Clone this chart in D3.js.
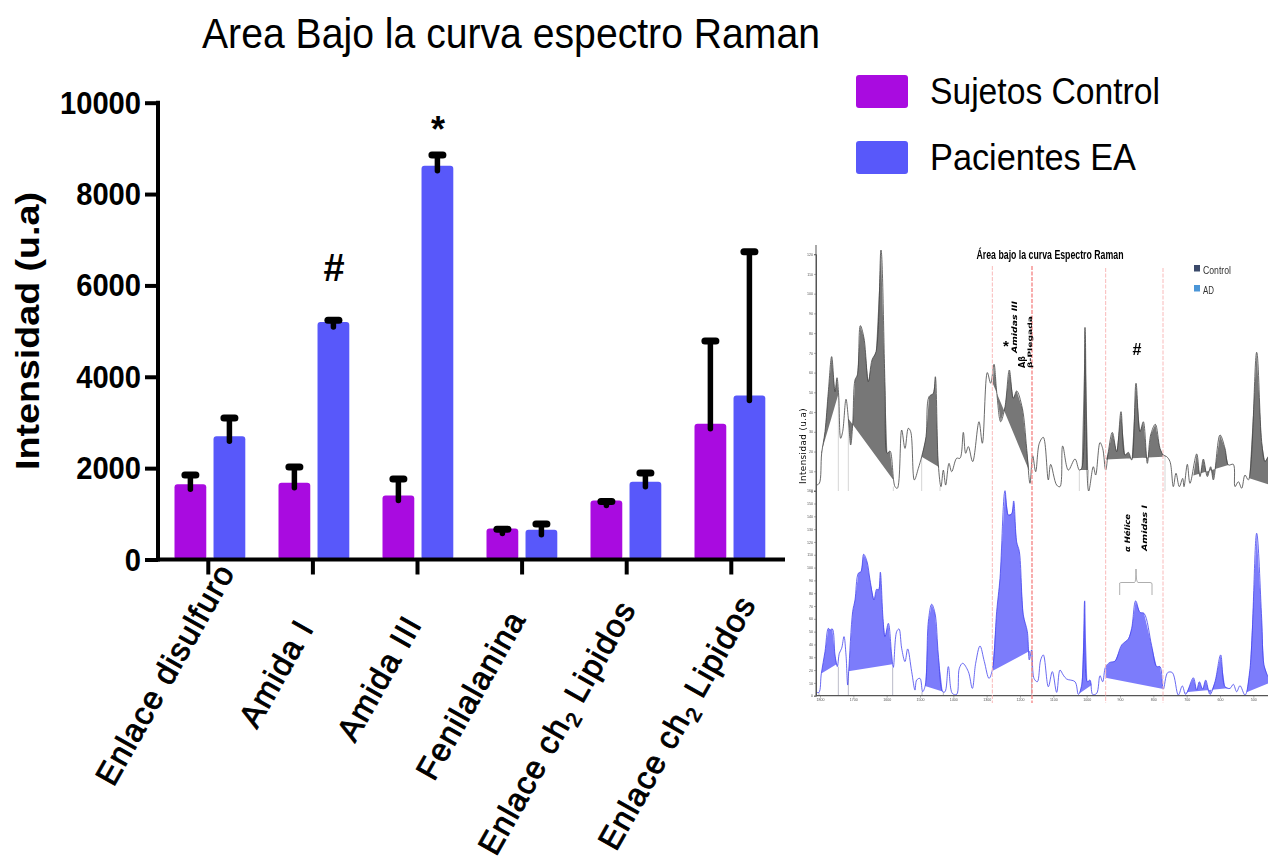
<!DOCTYPE html>
<html><head><meta charset="utf-8">
<style>html,body{margin:0;padding:0;background:#fff}svg{display:block}text{font-family:"Liberation Sans",Arial,sans-serif}</style>
<script src="https://cdn.jsdelivr.net/npm/d3@7"></script></head><body>
<svg id="c" width="1268" height="857"></svg>
<script>
const categories=["Enlace disulfuro","Amida I","Amida III","Fenilalanina","Enlace ch|2| Lipidos","Enlace ch|2| Lipidos "];
const seriesNames=["Sujetos Control","Pacientes EA"];
const controlValues=[1650,1680,1400,680,1290,2970];
const controlTops=[1850,2025,1762,660,1270,4783];
const patientValues=[2700,5200,8620,650,1700,3590];
const patientTops=[3097,5240,8855,775,1895,6738];
const yTicks=[0,2000,4000,6000,8000,10000];
const marks=[["#",1,6097],["*",2,9533]];
const spectrumTicks=[1800,1700,1600,1500,1400,1300,1200,1100,1000,900,800,700,600,500];
const topWn=[1810,1802,1795,1785,1775,1765,1755,1749,1744,1738,1732,1722,1715,1708,1702,1695,1688,1679,1668,1655,1644,1632,1617,1605,1598,1590,1575,1568,1555,1545,1535,1528,1517,1505,1495,1482,1473,1460,1454,1445,1437,1430,1423,1413,1405,1390,1380,1370,1363,1355,1342,1323,1313,1298,1288,1278,1270,1258,1245,1232,1220,1210,1193,1180,1170,1162,1153,1142,1130,1115,1108,1090,1080,1072,1055,1035,1022,1015,1005,994,980,973,960,952,943,935,923,910,897,885,875,865,852,840,830,818,808,794,780,770,760,750,740,732,722,712,708,698,690,670,660,650,638,628,620,600,585,575,560,555,545,535,525,515,490,475,465,456];
const topI=[3,3.9,19.1,30.1,50.3,68.1,50.3,57.4,48.6,26.7,30.1,46.5,36.8,23.3,33.4,56.3,58.8,83.8,77.4,55.4,66.4,70.6,122.1,53.7,19.1,20.3,2.2,1.4,30.9,21.6,31.8,30.1,5.6,11.5,17.4,27.5,47.8,49.5,57.9,13.2,2.2,10.6,3,14,9.8,16.6,16.6,29.7,19.1,22.5,14.9,35.1,24.2,60,54.6,64.2,50.3,35.1,42.7,61.3,47,50.7,41.9,21.6,3.9,17.9,9.8,24.2,27.2,5.6,13.5,3,2.2,22.8,10.6,16.2,10.6,11.5,82.9,0,12.3,8.1,24.5,21.6,10.6,19.9,29.7,19.9,40.2,18.2,19.6,15.7,54.6,30.1,35.1,14,28.4,33.8,21.6,18.2,17.4,14.9,2.2,9,2.2,6.4,2.2,13.5,3.9,18.8,7.3,16.2,7.3,12.3,5.6,28.4,21.6,13.2,13.5,2.2,4.7,1.4,8.1,5.6,70.3,25,14.9,17.4];
const botWn=[1810,1803,1796,1785,1775,1770,1763,1755,1748,1742,1735,1728,1722,1717,1714,1702,1695,1685,1677,1669,1659,1650,1638,1630,1624,1619,1611,1605,1595,1585,1580,1570,1563,1555,1545,1537,1525,1515,1510,1500,1492,1484,1475,1465,1455,1445,1432,1425,1415,1403,1390,1382,1372,1355,1343,1333,1320,1307,1293,1283,1270,1260,1245,1235,1225,1219,1210,1202,1190,1178,1172,1165,1158,1148,1138,1130,1115,1103,1090,1080,1070,1060,1035,1025,1015,1006,998,990,982,970,960,952,943,930,915,895,875,865,853,840,828,805,790,780,770,757,743,725,713,703,680,670,662,652,643,630,615,598,585,570,560,550,540,525,510,490,475,468,456];
const botI=[2.6,2.6,17.4,34.4,52.6,51.3,52.1,31.8,22.7,33.1,37,46.1,31.8,8.3,18.8,65.6,74.7,95.6,96.9,110.4,104.7,90.4,74.7,83.1,82.6,96.4,60.4,46.1,56.5,31.8,22.1,50,52.1,37,26.6,36.5,18.8,4.4,12.2,13.5,3.1,8.3,57.8,71.4,64.3,31.8,3.1,3.1,22.7,1.8,1,21.4,25.3,18.8,5.7,25.3,38.8,26.6,13.5,20,65.6,91.7,160,141,142,152,120,112.5,63,50,27.9,35.7,13.5,10.9,27.9,31.8,7,18.8,2.6,20,16,13,10.9,1,8.3,74,10.9,12.2,1,1.8,15.6,10.9,22.7,26,27,39.6,44.3,52.6,74,65,64.3,39,22.7,22.7,5.2,18,18,0.5,7.6,1,14,4.4,10.9,5.2,12.2,1,10.9,31.8,7,5.7,8.9,3.1,7.8,0.5,21.4,126.8,60.4,24,14.8];
const topRegions=[[1797,1745,19,49],[1715,1580,36.8,5.6],[1495,1442,17.4,12],[1282,1172,54.6,10],[1022,994,10.6,10.6],[942,770,16,17.4],[680,575,7.8,13.2],[512,456,6.4,3.4]];
const botRegions=[[1796,1748,17.4,25],[1715,1583,19,24.5],[1485,1430,7.6,3.1],[1283,1170,19.3,35],[1022,985,1.8,8.3],[943,770,14,5.2],[703,570,2.6,6],[520,456,2.6,9.6]];
const dropLinesTop=[1745,1715,1580,1495,1440,1022,995,765];
const dropLinesBot=[1803,1745,1715,1582,1494,1430,1165];
const dashWn=[1283,1164,943,771];

const svg=d3.select("#c");
const purple="#a90be0",blue="#5858fa";

// main chart
const y=d3.scaleLinear().domain([0,10000]).range([559.5,102.7]);
const x0=d3.scaleBand().domain(d3.range(categories.length)).range([158,782]);
const x1=d3.scaleBand().domain([0,1]).range([16.5,88]).paddingInner(0.2);
const xTicks=d3.scaleBand().domain(d3.range(categories.length)).range([156,783.6]);
const g=svg.append("g");
const series=[[controlValues,controlTops,purple],[patientValues,patientTops,blue]];
series.forEach((s,k)=>{
  g.selectAll(null).data(s[0]).join("rect")
    .attr("x",(d,i)=>x0(i)+x1(k)-(k?0.7:0)).attr("width",x1.bandwidth())
    .attr("y",d=>y(d)).attr("height",d=>y(0)-y(d)).attr("rx",3).attr("fill",s[2]);
  s[1].forEach((t,i)=>{
    const cx=x0(i)+x1(k)+x1.bandwidth()/2-(k?0.7:0);
    g.append("line").attr("x1",cx).attr("x2",cx).attr("y1",y(s[0][i])+5).attr("y2",y(t))
      .attr("stroke","#000").attr("stroke-width",5.5).attr("stroke-linecap","round");
    g.append("line").attr("x1",cx-5.5).attr("x2",cx+5.5).attr("y1",y(t)).attr("y2",y(t))
      .attr("stroke","#000").attr("stroke-width",7).attr("stroke-linecap","round");
  });
});
const ax=svg.append("g").attr("transform","translate(158,0)").call(d3.axisLeft(y).tickValues(yTicks).tickSize(13).tickFormat(d3.format("d")));
ax.select(".domain").attr("stroke-width",4).attr("stroke","#000").attr("d","M0,"+(y(10000)-2)+"V"+(y(0)+2));
ax.selectAll(".tick line").attr("stroke-width",4).attr("stroke","#000");
ax.selectAll(".tick text").style("font-size","31px").style("font-weight","700")
  .attr("transform","scale(0.94,1)").attr("x",-17/0.94).attr("dy","0.34em");
const bx=svg.append("g").attr("transform","translate(0,559.5)").call(d3.axisBottom(xTicks).tickSize(15).tickFormat(""));
bx.select(".domain").attr("stroke-width",4).attr("stroke","#000").attr("d","M158,0H785");
bx.selectAll(".tick line").attr("stroke-width",4).attr("stroke","#000");
// category labels: end points of each rotated label
const labelEndX=[226,305,413,517,627,747], labelEndY=[566,622,618,613,603,598];
categories.forEach((c,i)=>{
  const t=svg.append("text").attr("transform",`translate(${labelEndX[i]},${labelEndY[i]}) rotate(-60.5)`).attr("text-anchor","end")
    .attr("font-size",32).attr("letter-spacing","1.3").attr("stroke","#000").attr("stroke-width",0.9).attr("dy","0.35em");
  const parts=c.trim().split("|");
  parts.forEach((p,j)=>{
    const ts=t.append("tspan").text(p);
    if(j===1){ts.attr("font-size",21).attr("dy",7);}
    if(j===2){ts.attr("dy",-7);}
  });
});
svg.append("text").attr("transform","translate(39,331) rotate(-90)").attr("text-anchor","middle").attr("font-size",34).attr("font-weight",700).attr("textLength",278).attr("lengthAdjust","spacingAndGlyphs").text("Intensidad (u.a)");
marks.forEach(m=>{
  svg.append("text").attr("x",x0(m[1])+x1(1)+x1.bandwidth()/2).attr("y",y(m[2])+(m[0]=="*"?18:0)).attr("text-anchor","middle").attr("font-size",m[0]=="*"?36:38).attr("font-weight",700).text(m[0]);
});
svg.append("text").attr("x",202).attr("y",48).attr("font-size",43).attr("textLength",618).attr("lengthAdjust","spacingAndGlyphs").text("Area Bajo la curva espectro Raman");
seriesNames.forEach((n,i)=>{
  const ly=[75,141][i];
  svg.append("rect").attr("x",856).attr("y",ly).attr("width",52).attr("height",33).attr("rx",3).attr("fill",[purple,blue][i]);
  svg.append("text").attr("x",930).attr("y",ly+29).attr("font-size",37).attr("textLength",[230,206][i]).attr("lengthAdjust","spacingAndGlyphs").text(n);
});

// inset
const defs=svg.append("defs");
defs.append("filter").attr("id","soft").append("feGaussianBlur").attr("stdDeviation",0.45);
const ins=svg.append("g").attr("filter","url(#soft)");
const sx=d3.scaleLinear().domain([1860,456]).range([800,1268]);
const sTop=d3.scaleLinear().domain([0,120]).range([491,254.2]);
const sBot=d3.scaleLinear().domain([0,160]).range([695.7,490.7]);
const lineGen=d3.line().curve(d3.curveCatmullRom.alpha(0.5));
function panel(wn,I,regions,drops,ys,stroke,fill,dropCol){
  const pts=wn.map((w,i)=>[w,I[i]]);
  drops.forEach(w=>{
    const near=pts.reduce((a,b)=>Math.abs(b[0]-w)<Math.abs(a[0]-w)?b:a);
    ins.append("line").attr("x1",sx(w)).attr("x2",sx(w)).attr("y1",ys(near[1])).attr("y2",ys(0)).attr("stroke",dropCol).attr("stroke-width",0.8);
  });
  regions.forEach(r=>{
    const inner=pts.filter(p=>p[0]<=r[0]&&p[0]>=r[1]);
    const poly=[[r[0],r[2]],...inner,[r[1],r[3]]].map(p=>[sx(p[0]),ys(p[1])]);
    ins.append("path").attr("d",d3.line()(poly)+"Z").attr("fill",fill);
  });
  ins.append("path").attr("d",lineGen(pts.map(p=>[sx(p[0]),ys(p[1])]))).attr("fill","none").attr("stroke",stroke).attr("stroke-width",0.8);
}
panel(topWn,topI,topRegions,dropLinesTop,sTop,"#444","#777","#ccc");
panel(botWn,botI,botRegions,dropLinesBot,sBot,"#4444ee","#7c7cfb","#aab");
// inset axes
const la=ins.append("g").attr("transform","translate(816,0)").call(d3.axisLeft(sTop).tickValues(d3.range(0,121,10)).tickSize(2).tickPadding(1));
const lb=ins.append("g").attr("transform","translate(816,0)").call(d3.axisLeft(sBot).tickValues(d3.range(0,161,10)).tickSize(2).tickPadding(1));
const xb=ins.append("g").attr("transform","translate(0,695.7)").call(d3.axisBottom(sx).tickValues(spectrumTicks).tickSize(2).tickPadding(1).tickFormat(d3.format("d")));
[la,lb,xb].forEach(a=>{a.selectAll("path").attr("stroke","#555");a.selectAll("line").attr("stroke","#777").attr("stroke-width",.6);a.selectAll("text").attr("font-size",3.6).attr("fill","#555");});
xb.select(".domain").attr("d","M816,0H1268").attr("stroke-width",1.2);
ins.append("line").attr("x1",816).attr("x2",816).attr("y1",245).attr("y2",696).attr("stroke","#555").attr("stroke-width",1);
dashWn.forEach((w,i)=>{
  ins.append("line").attr("x1",sx(w)).attr("x2",sx(w)).attr("y1",i>=2?268:266).attr("y2",703).attr("stroke",i==1?"#f58a8a":"#f9baba").attr("stroke-width",i==1?1.4:1).attr("stroke-dasharray","4,1.5");
});
const it=(t,px,py,size,opt={})=>{
  const e=ins.append("text").attr("transform",`translate(${px},${py}) rotate(${opt.rot||0})`).attr("text-anchor","middle").attr("font-size",size).text(t);
  if(opt.weight)e.attr("font-weight",opt.weight);
  if(opt.italic)e.attr("font-style","italic");
  if(opt.fam)e.style("font-family",opt.fam);
  if(opt.len)e.attr("textLength",opt.len).attr("lengthAdjust","spacingAndGlyphs");
  return e;
};
it("Área bajo la curva Espectro Raman",1050,259,12,{weight:700,len:147});
ins.append("rect").attr("x",1194).attr("y",265).attr("width",6).attr("height",6.5).attr("fill","#3b4a6b");
ins.append("rect").attr("x",1194).attr("y",285).attr("width",6).attr("height",6.5).attr("fill","#4c96d7");
ins.append("text").attr("x",1203).attr("y",274).attr("font-size",11).attr("textLength",28).attr("lengthAdjust","spacingAndGlyphs").attr("fill","#333").text("Control");
ins.append("text").attr("x",1203).attr("y",294).attr("font-size",11).attr("textLength",11).attr("lengthAdjust","spacingAndGlyphs").attr("fill","#333").text("AD");
it("Amidas III",1017,327,7.5,{rot:-90,italic:1,weight:700,fam:"DejaVu Sans",len:52});
it("*",1006,351,15,{weight:700});
it("Aβ",1025,362,8,{rot:-90,weight:700,fam:"DejaVu Sans"});
it("β-Plegada",1032,342,6,{rot:-90,weight:700,fam:"DejaVu Sans",len:52});
it("#",1137,355,16,{weight:700});
it("Intensidad (u.a)",806,446,8.8,{rot:-90,fam:"DejaVu Sans"}).attr("letter-spacing","0.4");
it("α Hélice",1130,533,7.5,{rot:-90,italic:1,weight:700,fam:"DejaVu Sans",len:38});
it("Amidas I",1147,528,7.5,{rot:-90,italic:1,weight:700,fam:"DejaVu Sans",len:46});
ins.append("path").attr("d","M1119.7,595V583Q1120,582.5 1122,582.5H1134.5Q1136,582.5 1136,569Q1136,582.5 1138,582.5H1150Q1152,582.5 1152,584V595").attr("fill","none").attr("stroke","#999").attr("stroke-width",.8);
</script></body></html>
